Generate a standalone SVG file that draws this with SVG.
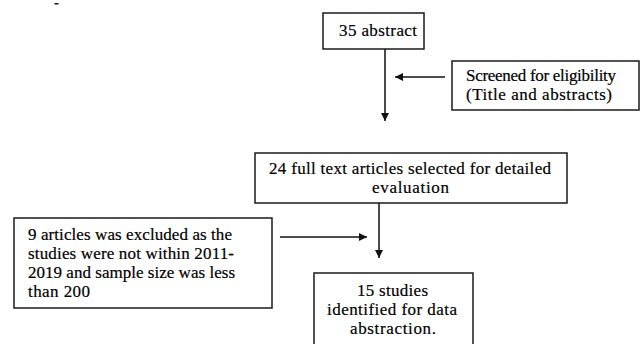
<svg xmlns="http://www.w3.org/2000/svg" width="642" height="344" viewBox="0 0 642 344">
<style>
.box{fill:#fff;stroke:#1a1a1a;stroke-width:1.5}
text{font-family:'Liberation Serif','Times New Roman','DejaVu Serif',serif;font-size:17px;fill:#000;stroke:#000;stroke-width:0.2}
.ln{stroke:#111;stroke-width:1.5;fill:none}
</style>
<defs>
<marker id="ah" viewBox="0 0 10 10" refX="10" refY="5" markerWidth="8" markerHeight="8" markerUnits="userSpaceOnUse" orient="auto">
<path d="M0,0 L10,5 L0,10 z" fill="#111"/>
</marker>
</defs>
<rect x="54.5" y="3" width="4" height="1.5" fill="#111"/>
<g id="connectors">
<line class="ln" x1="385" y1="49" x2="385" y2="121" marker-end="url(#ah)"/>
<line class="ln" x1="445" y1="77" x2="395" y2="77" marker-end="url(#ah)"/>
<line class="ln" x1="379" y1="203" x2="379" y2="258" marker-end="url(#ah)"/>
<line class="ln" x1="280" y1="237" x2="367" y2="237" marker-end="url(#ah)"/>
</g>
<g id="n1">
<rect class="box" x="323" y="13" width="101" height="36"/>
<text x="339" y="36" textLength="78" lengthAdjust="spacing">35 abstract</text>
</g>
<g id="n2">
<rect class="box" x="452" y="61" width="187" height="49"/>
<text x="466" y="81" textLength="150" lengthAdjust="spacing">Screened for eligibility</text>
<text x="466" y="100" textLength="146" lengthAdjust="spacing">(Title and abstracts)</text>
</g>
<g id="n3">
<rect class="box" x="255" y="153" width="312" height="50"/>
<text x="269" y="174" textLength="282" lengthAdjust="spacing">24 full text articles selected for detailed</text>
<text x="372" y="193" textLength="77" lengthAdjust="spacing">evaluation</text>
</g>
<g id="n4">
<rect class="box" x="14" y="218" width="258" height="90"/>
<text x="28" y="240" textLength="204" lengthAdjust="spacing">9 articles was excluded as the</text>
<text x="28" y="259" textLength="206" lengthAdjust="spacing">studies were not within 2011-</text>
<text x="28" y="278" textLength="207" lengthAdjust="spacing">2019 and sample size was less</text>
<text x="28" y="297" textLength="62" lengthAdjust="spacing">than 200</text>
</g>
<g id="n5">
<rect class="box" x="314" y="273" width="159" height="80"/>
<text x="357" y="296" textLength="71" lengthAdjust="spacing">15 studies</text>
<text x="327" y="315" textLength="130" lengthAdjust="spacing">identified for data</text>
<text x="350" y="334" textLength="86" lengthAdjust="spacing">abstraction.</text>
</g>
</svg>
